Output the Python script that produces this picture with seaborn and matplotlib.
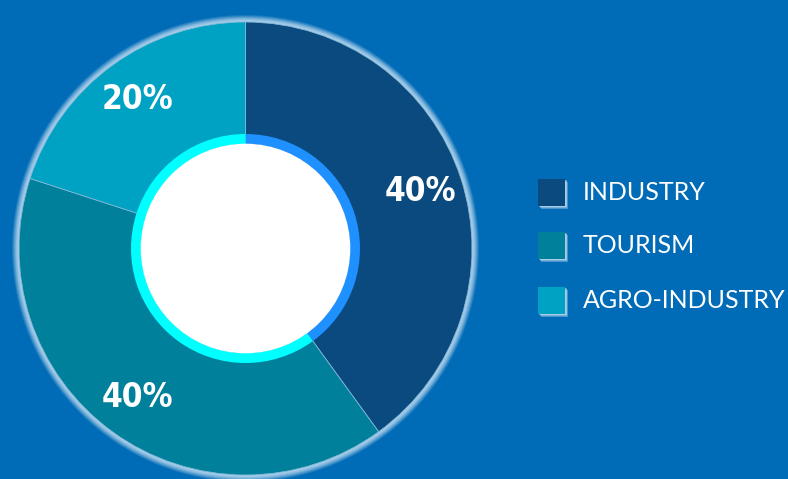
import matplotlib
matplotlib.use("Agg")
import matplotlib.pyplot as plt
from matplotlib.patches import Circle, Rectangle
import seaborn as sns

categories = ["INDUSTRY", "TOURISM", "AGRO-INDUSTRY"]
shares = [40, 40, 20]
pct_labels = ["40%", "40%", "20%"]
slice_colors = ["#0B4A7E", "#00809A", "#00A2C4"]
ring_colors = ["#1E90FF", "#00FFFF", "#00FFFF"]
bg = "#006BB6"

sns.set_style("white")
plt.rcParams["font.family"] = ["DejaVu Sans"]

W, H = 788, 479
fig = plt.figure(figsize=(W / 100, H / 100), dpi=100)
fig.patch.set_facecolor(bg)
ax = fig.add_axes([0, 0, 1, 1])
ax.set_facecolor(bg)

cx, cy = 245.5, H - 248.5
R = 226.5

# glow halo
for i in range(8):
    ax.add_patch(Circle((cx, cy), R + 7 - i, facecolor="#B8D8F0",
                        edgecolor="none", alpha=0.15 + 0.05 * i, zorder=1))

wedges, texts = ax.pie(shares, colors=slice_colors, startangle=90, counterclock=False,
                       radius=R, center=(cx, cy), labels=pct_labels, labeldistance=184 / R,
                       wedgeprops=dict(linewidth=0.6, edgecolor="#7FB8D8"),
                       textprops=dict(color="white", fontsize=24, fontweight="bold",
                                      fontstretch="condensed",
                                      ha="center", va="center"), frame=True)
for w in wedges:
    w.set_zorder(2)
for t in texts:
    t.set_zorder(6)

ring, _ = ax.pie(shares, colors=ring_colors, startangle=90, counterclock=False,
                 radius=114.5, center=(cx, cy),
                 wedgeprops=dict(width=10, linewidth=0), frame=True)
for w in ring:
    w.set_zorder(3)
ax.add_patch(Circle((cx, cy), 104.8, facecolor="white", edgecolor="none", zorder=4))

ax.set_xlim(0, W)
ax.set_ylim(0, H)
ax.set_aspect("equal")
ax.axis("off")

# legend
rows_y = [192, 245, 300]
for name, col, yy in zip(categories, slice_colors, rows_y):
    y = H - yy
    for k in range(4):
        ax.add_patch(Rectangle((538 + 1 + k * 0.7, y - 13.5 - 1 - k * 0.8), 27, 27,
                               facecolor="#CFE4F4", edgecolor="none", alpha=0.35, zorder=5))
    ax.add_patch(Rectangle((538, y - 13.5), 27, 27, facecolor=col, edgecolor="none", zorder=6))
    ax.text(583, y, name, color="white", fontsize=18, ha="left", va="center",
            family=["Lato", "DejaVu Sans"], fontweight="normal", zorder=6)

fig.savefig("out.png", dpi=100, facecolor=bg)
